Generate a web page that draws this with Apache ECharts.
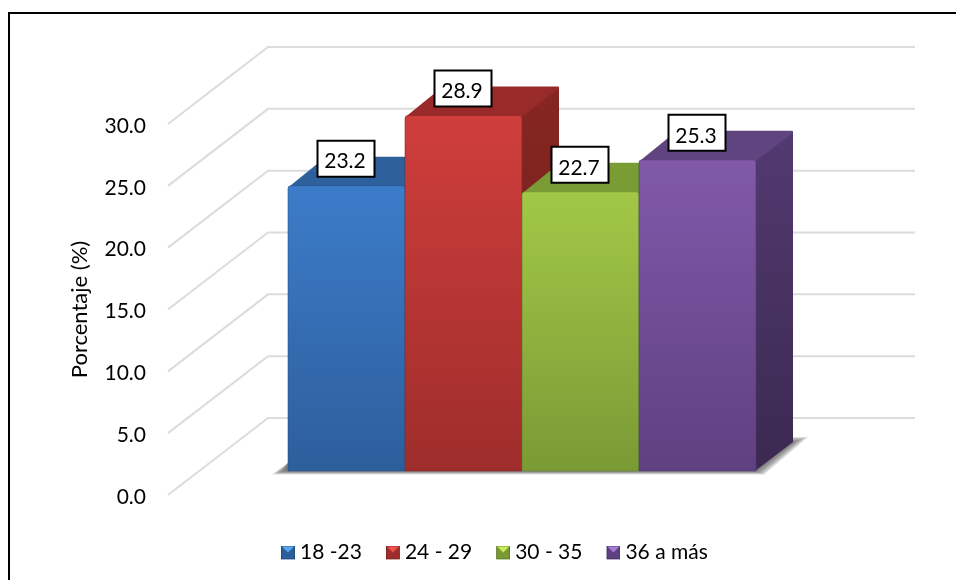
<!DOCTYPE html>
<html>
<head>
<meta charset="utf-8">
<style>html,body{margin:0;padding:0;background:#fff}#chart{width:956px;height:580px}</style>
<script src="https://cdn.jsdelivr.net/npm/echarts@6/dist/echarts.min.js"></script>
</head>
<body>
<div id="chart"></div>
<script>
// Age-group shares, drawn as 3D-looking columns
const categories = ['18 -23', '24 - 29', '30 - 35', '36 a más'];
const values = [23.2, 28.9, 22.7, 25.3];
const yTicks = [0, 5, 10, 15, 20, 25, 30];
const frontTop = ['#3c7cc9', '#cf3e3c', '#a2c847', '#8059aa'];
const frontBottom = ['#2d5e9c', '#9e2d2b', '#7a9a35', '#5f4080'];
const topFace = ['#2e609c', '#982b2a', '#7a9c35', '#60447f'];
const sideTop = ['#25507f', '#862622', '#64812c', '#523a70'];
const sideBottom = ['#1d3f66', '#6e1f1c', '#506824', '#3b2951'];
const legendLight = ['#5aa6f0', '#f0504e', '#c8ec5c', '#a77cd8'];

const FONT = 'Lato, "Open Sans", sans-serif';
const BAR_DX = 37, BAR_DY = -29;      // column depth
const WALL_DX = 100, WALL_DY = -77;   // side wall depth
const WALL_RIGHT = 915;
const SHADOW_LAYERS = [0, 1, 2, 3, 4, 5];

const chart = echarts.init(document.getElementById('chart'));

function vGrad(a, b) {
  return new echarts.graphic.LinearGradient(0, 0, 0, 1, [
    { offset: 0, color: a }, { offset: 1, color: b }
  ]);
}

function legendIcon(i) {
  const svg = '<svg xmlns="http://www.w3.org/2000/svg" width="14" height="14">' +
    '<rect width="14" height="14" fill="' + frontBottom[i] + '"/>' +
    '<polygon points="0,0 14,0 7,7" fill="' + legendLight[i] + '"/>' +
    '<rect x="0.5" y="0.5" width="13" height="13" fill="none" stroke="' + sideBottom[i] + '" stroke-opacity="0.7"/>' +
    '</svg>';
  return 'image://data:image/svg+xml;charset=utf-8,' + encodeURIComponent(svg);
}

function renderColumn(i) {
  return function (params, api) {
    const cat = api.value(0), val = api.value(1);
    const top = api.coord([cat, val]);
    const base = api.coord([cat, 0]);
    const w = api.size([1, 0])[0];
    const x0 = top[0] - w / 2, x1 = top[0] + w / 2, yT = top[1], yB = base[1];
    return {
      type: 'group',
      children: [
        { type: 'polygon', shape: { points: [[x1 - 1, yT + 1], [x1 + BAR_DX, yT + BAR_DY], [x1 + BAR_DX, yB + BAR_DY], [x1 - 1, yB]] },
          style: { fill: vGrad(sideTop[i], sideBottom[i]) } },
        { type: 'polygon', shape: { points: [[x0 + 1, yT + 1], [x0 + BAR_DX + 1, yT + BAR_DY], [x1 + BAR_DX - 1, yT + BAR_DY], [x1 + BAR_DX, yT + BAR_DY + 2], [x1 - 1, yT + 2], [x0, yT + 2]] },
          style: { fill: topFace[i] } },
        { type: 'rect', shape: { x: x0, y: yT, width: w, height: yB - yT, r: [3, 3, 0, 0] },
          style: { fill: vGrad(frontTop[i], frontBottom[i]), stroke: sideTop[i], lineWidth: 1, strokeOpacity: 0.55 } }
      ]
    };
  };
}

// Soft floor shadow built from stacked translucent outlines that grow outwards
function renderFloorShadow(params, api) {
  const w = api.size([1, 0])[0];
  const left = api.coord([0, 0])[0] - w / 2;
  const right = api.coord([categories.length - 1, 0])[0] + w / 2;
  const y = api.coord([0, 0])[1];
  return {
    type: 'group',
    children: SHADOW_LAYERS.map(k => ({
      type: 'polygon',
      shape: { points: [
        [left - 4 - 2.4 * k, y + 0.7 * k],
        [right + 1.6 * k, y + 0.7 * k],
        [right + BAR_DX + 3 * k, y + BAR_DY - k],
        [left + BAR_DX, y + BAR_DY - k],
        [left, y - 8]
      ] },
      style: { fill: 'rgba(80,80,80,0.2)' }
    }))
  };
}

function renderWallLine(params, api) {
  const p = api.coord([0, api.value(0)]);
  return {
    type: 'polyline',
    shape: { points: [p, [p[0] + WALL_DX, p[1] + WALL_DY], [WALL_RIGHT, p[1] + WALL_DY]] },
    style: { fill: 'none', stroke: '#dcdcdc', lineWidth: 2 }
  };
}

// White value box sitting over the top face of each column
function renderValueBox(params, api) {
  const p = api.coord([api.value(0), api.value(1)]);
  return {
    type: 'group',
    children: [
      { type: 'rect', shape: { x: p[0] - 29, y: p[1] - 45, width: 57, height: 36 },
        style: { fill: '#fff', stroke: '#000', lineWidth: 2 } },
      { type: 'text', x: p[0] - 1.5, y: p[1] - 24,
        style: { text: api.value(1).toFixed(1), font: '21px ' + FONT, fill: '#000', align: 'center', verticalAlign: 'middle' } }
    ]
  };
}

const option = {
  backgroundColor: '#fff',
  animation: false,
  graphic: [{
    type: 'rect', silent: true,
    shape: { x: 9, y: 13, width: 1000, height: 620 },
    style: { fill: 'none', stroke: '#000', lineWidth: 2 }
  }],
  legend: {
    left: 276, top: 537, itemWidth: 14, itemHeight: 14, itemGap: 24,
    textStyle: { fontFamily: FONT, fontSize: 21, color: '#000' },
    data: categories.map((name, i) => ({ name, icon: legendIcon(i) }))
  },
  grid: [
    // plane of the axis labels and wall lines
    { left: 168, right: 41, top: 124, height: 371 },
    // plane of the column fronts
    { left: 288, width: 468, top: 102, height: 369 }
  ],
  xAxis: [
    { gridIndex: 0, type: 'value', min: 0, max: 1, show: false },
    { gridIndex: 1, type: 'category', data: categories, show: false }
  ],
  yAxis: [
    {
      gridIndex: 0, type: 'value', min: 0, max: 30, interval: 5,
      name: 'Porcentaje (%)', nameLocation: 'middle', nameGap: 77,
      nameTextStyle: { fontFamily: FONT, fontSize: 22, color: '#000' },
      axisLine: { show: false }, axisTick: { show: false }, splitLine: { show: false },
      axisLabel: {
        margin: 22,
        formatter: v => '{t|' + v.toFixed(1) + '}',
        rich: { t: { fontFamily: FONT, fontSize: 21, color: '#000', padding: [4, 0, 0, 0] } }
      }
    },
    { gridIndex: 1, type: 'value', min: 0, max: 30, show: false }
  ],
  series: [
    { type: 'custom', name: 'lines', coordinateSystem: 'cartesian2d', xAxisIndex: 0, yAxisIndex: 0, z: 1, silent: true,
      data: yTicks.map(v => [v]), encode: { y: 0 }, renderItem: renderWallLine },
    { type: 'custom', name: 'floor', coordinateSystem: 'cartesian2d', xAxisIndex: 1, yAxisIndex: 1, z: 2, silent: true,
      data: [[0, 0]], renderItem: renderFloorShadow },
    ...categories.map((name, i) => ({
      type: 'custom', name, coordinateSystem: 'cartesian2d', xAxisIndex: 1, yAxisIndex: 1, z: 3 + i, silent: true,
      itemStyle: { color: frontTop[i] },
      data: [[i, values[i]]],
      encode: { x: 0, y: 1 },
      renderItem: renderColumn(i)
    })),
    { type: 'custom', name: 'values', coordinateSystem: 'cartesian2d', xAxisIndex: 1, yAxisIndex: 1, z: 10, silent: true,
      data: values.map((v, i) => [i, v]), encode: { x: 0, y: 1 }, renderItem: renderValueBox }
  ]
};
chart.setOption(option);
</script>
</body>
</html>
